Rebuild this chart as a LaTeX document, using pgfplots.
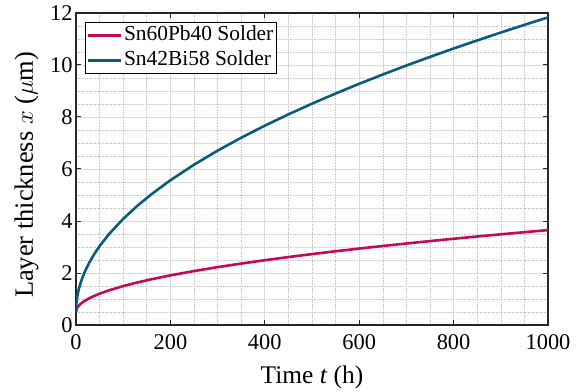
\documentclass[border=0pt]{standalone}
\usepackage{fontspec}
\setmainfont{Liberation Serif}
\usepackage{pgfplots}
\pgfplotsset{compat=1.18}
\definecolor{redc}{RGB}{198,8,88}
\definecolor{bluec}{RGB}{10,92,122}
\definecolor{majg}{RGB}{218,218,218}
\definecolor{ming}{RGB}{200,200,200}
\begin{document}
\begin{tikzpicture}
\begin{axis}[
  scale only axis,
  width=472bp, height=312bp,
  xmin=0, xmax=1000, ymin=0, ymax=12,
  xtick={0,200,400,600,800,1000},
  ytick={0,2,4,6,8,10,12},
  minor x tick num=3, minor y tick num=3,
  grid=both,
  major grid style={majg, line width=0.8bp},
  minor grid style={ming, line width=0.6bp, densely dotted},
  tick align=inside,
  major tick length=5bp, minor tick length=0pt,
  tick style={black!85, line width=1bp},
  axis line style={black!85, line width=1.1bp},
  /pgf/number format/assume math mode=true,
  /pgf/number format/1000 sep={},
  ticklabel style={font=\fontsize{22.5}{27}\selectfont},
  xticklabel style={yshift=-6bp},
  xlabel={Time \textit{t} (h)},
  ylabel={Layer thickness $x$ ($\mu$m)},
  xlabel style={font=\fontsize{25.5}{30}\selectfont, at={(axis description cs:0.5,0)}, anchor=base, yshift=-58bp},
  ylabel style={font=\fontsize{26.5}{30}\selectfont, at={(axis description cs:0,0.481)}, anchor=base, yshift=43bp},
  legend cell align=left,
  legend style={at={(axis description cs:0.019,0.971)}, anchor=north west,
    font=\fontsize{21.5}{25}\selectfont, draw=black, line width=0.9bp,
    inner xsep=1bp, inner ysep=1bp, row sep=2bp,
    nodes={inner sep=2bp, text height=15bp, text depth=4.5bp},
    /tikz/every even column/.append style={column sep=0bp}},
  legend image code/.code={\draw[#1] (0bp,0bp) -- (33bp,0bp);},
]
\coordinate (sw) at (rel axis cs:0,0);
\coordinate (ne) at (rel axis cs:1,1);
\addplot[redc, line width=2.6bp] coordinates {
(0,0.500) (0.5,0.570) (1,0.600) (2,0.641) (3,0.673) (5,0.723) (7,0.764) (10,0.815) (15,0.886) (20,0.945) (30,1.046) (40,1.130) (50,1.204) (70,1.333) (100,1.496) (130,1.636) (160,1.760) (200,1.909) (250,2.075) (300,2.225) (350,2.363) (400,2.492) (450,2.613) (500,2.727) (550,2.836) (600,2.940) (650,3.039) (700,3.135) (750,3.228) (800,3.317) (850,3.404) (900,3.488) (950,3.570) (1000,3.650)
};
\addlegendentry{Sn60Pb40 Solder}
\addplot[bluec, line width=2.6bp] coordinates {
(0,0.500) (0.5,0.753) (1,0.858) (2,1.007) (3,1.121) (5,1.301) (7,1.448) (10,1.633) (15,1.888) (20,2.102) (30,2.463) (40,2.766) (50,3.034) (70,3.498) (100,4.083) (130,4.585) (160,5.032) (200,5.567) (250,6.165) (300,6.706) (350,7.203) (400,7.666) (450,8.101) (500,8.512) (550,8.903) (600,9.277) (650,9.635) (700,9.980) (750,10.312) (800,10.634) (850,10.946) (900,11.249) (950,11.544) (1000,11.830)
};
\addlegendentry{Sn42Bi58 Solder}
\end{axis}
\pgfresetboundingbox
\path ([shift={(-76bp,-67bp)}]sw) rectangle ([shift={(33bp,13bp)}]ne);
\end{tikzpicture}
\end{document}
